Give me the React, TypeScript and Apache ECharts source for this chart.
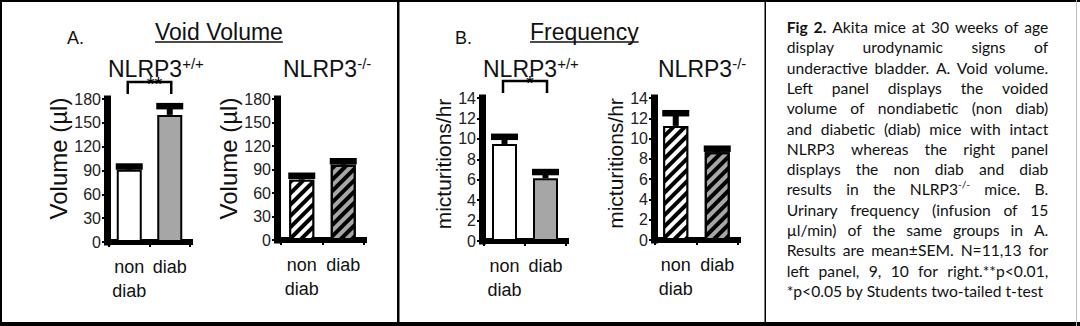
import React, { useEffect, useRef } from "react";
import * as echarts from "echarts";

// ---------- data ----------
const CATEGORIES = ["non diab", "diab"];

const VOLUME_WT_MEAN = [91, 160];
const VOLUME_WT_SEM = [4, 11];
const VOLUME_KO_MEAN = [77, 96];
const VOLUME_KO_SEM = [5, 4.5];

const FREQ_WT_MEAN = [9.5, 6.15];
const FREQ_WT_SEM = [0.7, 0.6];
const FREQ_KO_MEAN = [11.25, 8.65];
const FREQ_KO_SEM = [1.25, 0.35];

const VOLUME_MAX = 180;
const VOLUME_STEP = 30;
const FREQ_MAX = 14;
const FREQ_STEP = 2;

const VOLUME_AXIS_NAME = "Volume (µl)";
const FREQ_AXIS_NAME = "micturitions/hr";

const SIG_VOLUME = "**";
const SIG_FREQ = "*";

const PANEL_LETTERS = ["A.", "B."];
const PANEL_TITLES = ["Void Volume", "Frequency"];
const GENOTYPE = "NLRP3";
const GENOTYPE_SUP = ["+/+", "-/-"];

const CAPTION_BOLD = ["Fig", "2."];
const CAPTION_LINES = [
  "Fig 2. Akita mice at 30 weeks of age",
  "display urodynamic signs of",
  "underactive bladder. A. Void volume.",
  "Left panel displays the voided",
  "volume of nondiabetic (non diab)",
  "and diabetic (diab) mice with intact",
  "NLRP3 whereas the right panel",
  "displays the non diab and diab",
  "results in the NLRP3^-/- mice. B.",
  "Urinary frequency (infusion of 15",
  "µl/min) of the same groups in A.",
  "Results are mean±SEM. N=11,13 for",
  "left panel, 9, 10 for right.**p<0.01,",
  "*p<0.05 by Students two-tailed t-test",
];

// ---------- styling / layout ----------
const GRAY = "#a6a6a6";
const AXIS_FONT = "Liberation Sans";
const CAPTION_FONT = "Lato";
const BAR_W = 25;

const hatch = (color: string) => ({
  symbol: "rect",
  symbolSize: 1,
  dashArrayX: [1, 0],
  dashArrayY: [3.5, 3.5],
  rotation: -Math.PI / 4,
  color,
});

const PANELS = [
  {
    grid: { left: 109, top: 99, width: 81, height: 143 },
    means: VOLUME_WT_MEAN, sems: VOLUME_WT_SEM, max: VOLUME_MAX, step: VOLUME_STEP,
    name: VOLUME_AXIS_NAME, nameSize: 24, nameGap: 33, namePad: 24, offset: 2,
    hatched: false, sig: SIG_VOLUME,
  },
  {
    grid: { left: 281, top: 99, width: 83, height: 141 },
    means: VOLUME_KO_MEAN, sems: VOLUME_KO_SEM, max: VOLUME_MAX, step: VOLUME_STEP,
    name: VOLUME_AXIS_NAME, nameSize: 24, nameGap: 27, namePad: 22, offset: 4,
    hatched: true, sig: null,
  },
  {
    grid: { left: 484, top: 98, width: 82, height: 143 },
    means: FREQ_WT_MEAN, sems: FREQ_WT_SEM, max: FREQ_MAX, step: FREQ_STEP,
    name: FREQ_AXIS_NAME, nameSize: 21, nameGap: 25, namePad: 11, offset: 2,
    hatched: false, sig: SIG_FREQ,
  },
  {
    grid: { left: 655, top: 98, width: 83, height: 142 },
    means: FREQ_KO_MEAN, sems: FREQ_KO_SEM, max: FREQ_MAX, step: FREQ_STEP,
    name: FREQ_AXIS_NAME, nameSize: 21, nameGap: 25, namePad: 11, offset: 1,
    hatched: true, sig: null,
  },
];

const TITLE_X = [108, 283, 483, 658];

export default function App() {
  const ref = useRef<HTMLDivElement>(null);

  useEffect(() => {
    document.body.style.margin = "0";
    const el = ref.current!;
    const chart = echarts.init(el, null, { renderer: "svg", width: 1080, height: 326 });

    const canvas = document.createElement("canvas");
    const ctx = canvas.getContext("2d")!;
    const measure = (t: string, font: string) => {
      ctx.font = font;
      return ctx.measureText(t).width;
    };

    // ---- axes / series ----
    const grids: any[] = [];
    const xAxes: any[] = [];
    const yAxes: any[] = [];
    const series: any[] = [];

    PANELS.forEach((p, i) => {
      grids.push({ ...p.grid, containLabel: false });
      xAxes.push({
        type: "category",
        gridIndex: i,
        data: CATEGORIES,
        axisLine: { show: true, lineStyle: { color: "#000", width: 6, cap: "square" } },
        axisTick: { show: true, length: 5, lineStyle: { color: "#000", width: 2 } },
        axisLabel: {
          interval: 0,
          formatter: (v: string) => v.replace(" ", "\n"),
          fontFamily: AXIS_FONT,
          fontSize: 18,
          lineHeight: 24,
          color: "#111",
          margin: 13,
        },
        splitLine: { show: false },
      });
      yAxes.push({
        type: "value",
        gridIndex: i,
        min: 0,
        max: p.max,
        interval: p.step,
        offset: p.offset,
        name: p.name,
        nameLocation: "middle",
        nameGap: p.nameGap,
        nameTextStyle: {
          fontFamily: AXIS_FONT,
          fontSize: p.nameSize,
          color: "#111",
          padding: [0, 0, 0, p.namePad],
        },
        axisLine: { show: true, lineStyle: { color: "#000", width: 7, cap: "square" } },
        axisTick: { show: true, length: 5, lineStyle: { color: "#000", width: 2 } },
        axisLabel: { fontFamily: AXIS_FONT, fontSize: 16, color: "#222", margin: 6 },
        splitLine: { show: false },
      });

      const styles = p.hatched
        ? [
            { color: "#000", decal: hatch("#fff") },
            { color: GRAY, decal: hatch("#000") },
          ]
        : [{ color: "#fff" }, { color: GRAY }];

      series.push({
        type: "bar",
        xAxisIndex: i,
        yAxisIndex: i,
        barWidth: BAR_W,
        itemStyle: { borderColor: "#000", borderWidth: 2 },
        data: p.means.map((v, j) => ({ value: v, itemStyle: styles[j] })),
        z: 2,
      });

      series.push({
        type: "custom",
        xAxisIndex: i,
        yAxisIndex: i,
        z: 3,
        clip: false,
        data: p.means.map((m, j) => [j, m, p.sems[j]]),
        renderItem: (params: any, api: any) => {
          const cat = api.value(0);
          const mean = api.value(1);
          const sem = api.value(2);
          const p0 = api.coord([cat, mean]);
          const p1 = api.coord([cat, mean + sem]);
          const capH = 6.5;
          const stemW = 6;
          return {
            type: "group",
            children: [
              {
                type: "rect",
                shape: { x: p0[0] - stemW / 2, y: p1[1], width: stemW, height: Math.max(0, p0[1] - p1[1]) },
                style: { fill: "#000" },
              },
              {
                type: "rect",
                shape: { x: p0[0] - BAR_W / 2 - 1, y: p1[1] - capH / 2, width: BAR_W + 2, height: capH },
                style: { fill: "#000" },
              },
            ],
          };
        },
      });

      if (p.sig) {
        const sig = p.sig;
        series.push({
          type: "custom",
          xAxisIndex: i,
          yAxisIndex: i,
          z: 4,
          clip: false,
          data: [[0, 1]],
          renderItem: (params: any, api: any) => {
            const xa = api.coord([api.value(0), 0])[0] - 1.5;
            const xb = api.coord([api.value(1), 0])[0] + 1.5;
            const top = params.coordSys.y - 17;
            return {
              type: "group",
              children: [
                {
                  type: "polyline",
                  shape: { points: [[xa, top + 12], [xa, top], [xb, top], [xb, top + 12]] },
                  style: { stroke: "#000", lineWidth: 2.5, fill: "none" },
                },
                {
                  type: "text",
                  x: (xa + xb) / 2 + 5,
                  y: top + 1.5,
                  style: {
                    text: sig,
                    fontFamily: AXIS_FONT,
                    fontSize: 20,
                    lineHeight: 10,
                    fill: "#000",
                    align: "center",
                    verticalAlign: "middle",
                  },
                },
              ],
            };
          },
        });
      }
    });

    // ---- graphics: frame, titles, caption ----
    const g: any[] = [];
    const rect = (x: number, y: number, w: number, h: number, fill = "#000") =>
      g.push({ type: "rect", silent: true, shape: { x, y, width: w, height: h }, style: { fill } });
    rect(0, 0, 1080, 2);
    rect(0, 0, 2, 326);
    rect(0, 322, 1080, 4);
    rect(397, 0, 2.5, 326);
    rect(764.5, 0, 1.5, 326);
    rect(1076, 0, 1, 326, "#bbb");

    const txt = (text: string, x: number, y: number, size: number, extra: any = {}) =>
      g.push({
        type: "text",
        silent: true,
        x,
        y,
        style: {
          text,
          fontFamily: AXIS_FONT,
          fontSize: size,
          fill: "#111",
          align: "left",
          verticalAlign: "middle",
          ...extra,
        },
      });

    // panel letters and titles
    txt(PANEL_LETTERS[0], 67, 37.5, 18);
    txt(PANEL_LETTERS[1], 455, 37.5, 18);
    const titleX = [155, 530];
    PANEL_TITLES.forEach((t, k) => {
      txt(t, titleX[k], 32, 23);
      const w = measure(t, `23px ${AXIS_FONT}`);
      g.push({
        type: "line",
        silent: true,
        shape: { x1: titleX[k], y1: 42, x2: titleX[k] + w, y2: 42 },
        style: { stroke: "#111", lineWidth: 1.5 },
      });
    });

    // genotype titles
    TITLE_X.forEach((x, k) => {
      const sup = GENOTYPE_SUP[k % 2];
      txt(GENOTYPE, x, 68.5, 23, { lineHeight: 18 });
      const w = measure(GENOTYPE, `23px ${AXIS_FONT}`);
      txt(sup, x + w, 63.5, 15, { lineHeight: 12 });
    });

    // caption (justified)
    const capLeft = 786.7;
    const capWidth = 261.6;
    const lastLine = CAPTION_LINES[CAPTION_LINES.length - 1];
    let fs = (14 * 256.7) / measure(lastLine, `14px ${CAPTION_FONT}`);
    fs = Math.max(12, Math.min(16, fs));
    const supFs = fs * 0.65;
    CAPTION_LINES.forEach((line, i) => {
      const y = 27 + 20.3 * i;
      const words = line.split(" ").filter(Boolean);
      const pieces = words.map((w, wi) => {
        const bold = i === 0 && wi < CAPTION_BOLD.length && CAPTION_BOLD[wi] === w;
        const [base, sup] = w.split("^");
        const font = `${bold ? "bold " : ""}${fs}px ${CAPTION_FONT}`;
        const bw = measure(base, font);
        const sw = sup ? measure(sup, `${supFs}px ${CAPTION_FONT}`) : 0;
        return { base, sup, bold, bw, sw, width: bw + sw };
      });
      const total = pieces.reduce((s, p) => s + p.width, 0);
      const isLast = i === CAPTION_LINES.length - 1;
      const gap =
        isLast || pieces.length < 2
          ? measure(" ", `${fs}px ${CAPTION_FONT}`)
          : (capWidth - total) / (pieces.length - 1);
      let x = capLeft;
      pieces.forEach((p) => {
        txt(p.base, x, y, fs, { fontFamily: CAPTION_FONT, fontWeight: p.bold ? "bold" : "normal" });
        if (p.sup) {
          txt(p.sup, x + p.bw, y - fs * 0.33, supFs, { fontFamily: CAPTION_FONT });
        }
        x += p.width + gap;
      });
    });

    chart.setOption({
      animation: false,
      backgroundColor: "#fff",
      grid: grids,
      xAxis: xAxes,
      yAxis: yAxes,
      series,
      graphic: { elements: g },
    });

    return () => chart.dispose();
  }, []);

  return (
    <div
      ref={ref}
      style={{ position: "absolute", left: 0, top: 0, width: 1080, height: 326, background: "#fff" }}
    />
  );
}
